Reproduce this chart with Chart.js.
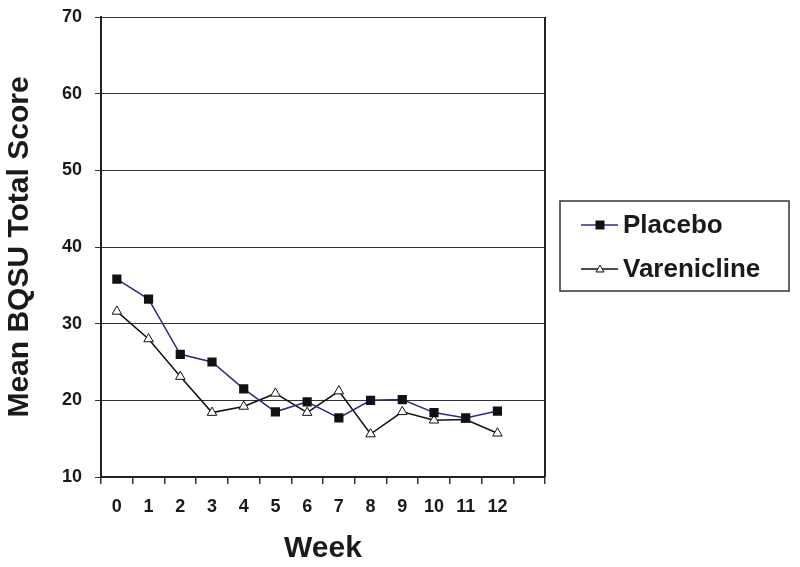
<!DOCTYPE html>
<html>
<head>
<meta charset="utf-8">
<script src="https://cdn.jsdelivr.net/npm/chart.js"></script>
<style>
  html, body { margin: 0; padding: 0; background: #fff; }
  #wrap { width: 800px; height: 567px; }
</style>
</head>
<body>
<div id="wrap"><canvas id="chart" width="800" height="567"></canvas></div>
<script>
/* ---------------- DATA ---------------- */
const WEEKS = ['0','1','2','3','4','5','6','7','8','9','10','11','12',''];
const PLACEBO = [35.8, 33.2, 26.0, 25.0, 21.5, 18.5, 19.8, 17.7, 20.0, 20.1, 18.4, 17.7, 18.6];
const VARENICLINE = [31.6, 28.0, 23.1, 18.4, 19.2, 20.9, 18.4, 21.2, 15.6, 18.5, 17.4, 17.5, 15.7];
const Y_MIN = 10, Y_MAX = 70, Y_STEP = 10;
/* -------------------------------------- */

const FONT = "'Liberation Sans', Arial, Helvetica, sans-serif";
const INK = '#1a1a1a';

// boxed legend on the right + right border of the plot
const boxLegend = {
  id: 'boxLegend',
  afterDraw(chart){
    const ctx = chart.ctx;
    const a = chart.chartArea;
    ctx.save();
    // right frame line
    ctx.strokeStyle = '#222';
    ctx.lineWidth = 2;
    ctx.beginPath();
    ctx.moveTo(a.right, a.top);
    ctx.lineTo(a.right, a.bottom);
    ctx.stroke();

    // legend box
    const bx = 560, by = 201, bw = 229, bh = 90;
    ctx.lineWidth = 1.5;
    ctx.strokeStyle = '#333';
    ctx.strokeRect(bx, by, bw, bh);

    const rows = [by + 24, by + 68];
    chart.data.datasets.forEach((ds, i) => {
      const y = rows[i];
      ctx.strokeStyle = ds.borderColor;
      ctx.lineWidth = 1.5;
      ctx.beginPath();
      ctx.moveTo(581, y);
      ctx.lineTo(618, y);
      ctx.stroke();
      const cx = 600;
      if(ds.pointStyle === 'rect'){
        ctx.fillStyle = '#111';
        ctx.fillRect(cx - 4.5, y - 4.5, 9, 9);
      } else {
        ctx.fillStyle = '#fff';
        ctx.strokeStyle = '#111';
        ctx.lineWidth = 1;
        ctx.beginPath();
        ctx.moveTo(cx, y - 4);
        ctx.lineTo(cx + 4, y + 3);
        ctx.lineTo(cx - 4, y + 3);
        ctx.closePath();
        ctx.fill();
        ctx.stroke();
      }
      ctx.fillStyle = INK;
      ctx.font = `bold 26px ${FONT}`;
      ctx.textBaseline = 'middle';
      ctx.textAlign = 'left';
      ctx.fillText(ds.label, 623, y + 1);
    });
    ctx.restore();
  }
};

new Chart(document.getElementById('chart').getContext('2d'), {
  type: 'line',
  data: {
    labels: WEEKS,
    datasets: [{
      label: 'Placebo',
      data: PLACEBO,
      borderColor: '#2b2b86',
      borderWidth: 1.5,
      pointStyle: 'rect',
      pointRadius: 6.5,
      pointBackgroundColor: '#111',
      pointBorderColor: '#111',
      pointBorderWidth: 0,
      tension: 0,
      fill: false
    },{
      label: 'Varenicline',
      data: VARENICLINE,
      borderColor: '#111',
      borderWidth: 1.5,
      pointStyle: 'triangle',
      pointRadius: 5.5,
      pointBackgroundColor: '#fff',
      pointBorderColor: '#111',
      pointBorderWidth: 1,
      tension: 0,
      fill: false
    }]
  },
  options: {
    responsive: false,
    animation: false,
    layout: { padding: { left: 0, top: 17, right: 255, bottom: 0 } },
    plugins: { legend: { display: false }, tooltip: { enabled: false } },
    scales: {
      x: {
        offset: true,
        grid: { offset: true, drawOnChartArea: false, drawTicks: true, tickLength: 7, color: '#333', lineWidth: 1.5 },
        border: { color: '#222', width: 2 },
        ticks: { color: INK, font: { family: FONT, size: 18, weight: 'bold' }, padding: 12, maxRotation: 0, autoSkip: false },
        title: { display: true, text: 'Week', color: INK, font: { family: FONT, size: 30, weight: 'bold' }, padding: { top: 2, bottom: 0 } },
        afterFit(scale){ scale.height = 90; scale.paddingLeft = 0; scale.paddingRight = 0; }
      },
      y: {
        min: Y_MIN, max: Y_MAX,
        grid: { color: '#333', lineWidth: 1, tickLength: 6 },
        border: { color: '#222', width: 2 },
        ticks: { stepSize: Y_STEP, color: INK, font: { family: FONT, size: 18, weight: 'bold' }, padding: 13 },
        title: { display: true, text: 'Mean BQSU Total Score', color: INK, font: { family: FONT, size: 30, weight: 'bold' }, padding: { top: 2, bottom: 2 } },
        afterFit(scale){ scale.width = 101; scale.paddingTop = 0; scale.paddingBottom = 0; }
      }
    }
  },
  plugins: [boxLegend]
});
</script>
</body>
</html>
